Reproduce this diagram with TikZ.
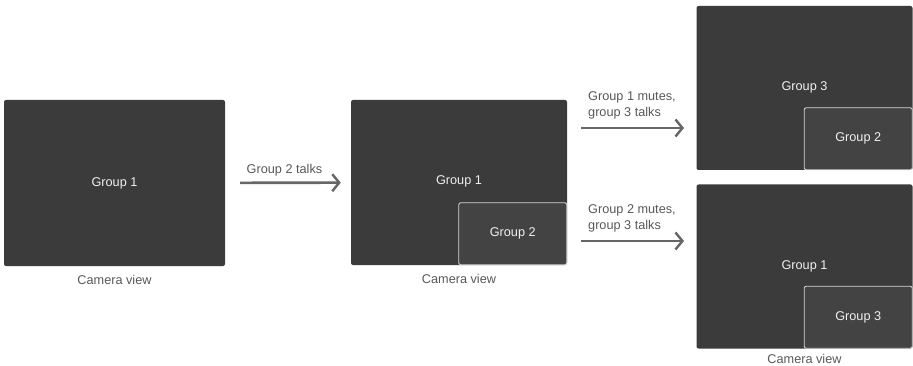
\documentclass[tikz,border=0pt]{standalone}
\usepackage{fontspec}
\setmainfont{Liberation Sans}
\usetikzlibrary{positioning, arrows.meta}
\definecolor{screen}{HTML}{3B3B3B}
\definecolor{insetfill}{HTML}{434343}
\definecolor{insetline}{HTML}{D4D4D4}
\definecolor{labelgray}{HTML}{585858}
\definecolor{arrowgray}{HTML}{666666}
\tikzset{
	graytext/.style={font=\fontsize{12.7}{16}\selectfont\color{labelgray}}
}
\tikzset{
	screentext/.style={font=\fontsize{12.7}{16}\selectfont\color{white!94!black}}
}

\begin{document}
\begin{tikzpicture}[x=1pt, y=-1pt]
			\tikzset{
				camnode/.style={
						shape=rectangle,
						fill=screen,
						rounded corners=2pt,
						minimum width=216pt,
						minimum height=164pt,
						inner sep=0pt,
						screentext
					},
				insetnode/.style={
						shape=rectangle,
						fill=insetfill,
						draw=insetline,
						line width=0.9pt,
						rounded corners=2pt,
						minimum width=108pt,
						minimum height=62pt,
						inner sep=0pt,
						screentext
					},
				flow/.style={
						draw=arrowgray,
						line width=2.6pt,
						-{Straight Barb[length=7pt, width=17pt, line width=2.4pt]}
					}
			}

			\useasboundingbox (0,0) rectangle (913,366);

			% camera views
			\node[camnode, minimum width=221pt, minimum height=166pt] (cam1) at (114.5,183) {Group 1};
			\node[camnode, minimum height=165pt] (cam2) at (459,182.5) {};
			\node[camnode] (cam3) at (804.5,88) {};
			\node[camnode] (cam4) at (804.5,266.5) {};

			% picture in picture
			\node[insetnode, anchor=south east] (pip2) at (cam2.south east) {Group 2};
			\node[insetnode, anchor=south east] (pip3) at (cam3.south east) {Group 2};
			\node[insetnode, anchor=south east] (pip4) at (cam4.south east) {Group 3};

			\node[screentext] (main2) at (459,181) {Group 1};
			\node[screentext] (main3) at (804.5,87) {Group 3};
			\node[screentext] (main4) at (804.5,266) {Group 1};

			\node[below=5.5pt of cam1, graytext] (cap1) {Camera view};
			\node[below=5.5pt of cam2, graytext] (cap2) {Camera view};
			\node[below=2pt of cam4, graytext] (cap4) {Camera view};

			% transitions
			\coordinate (up1) at (581,128);
			\coordinate (up2) at (684,128);
			\coordinate (dn1) at (581,241);
			\coordinate (dn2) at (684,241);

			\draw[flow, shorten <=15pt, shorten >=10pt] (cam1) -- (cam2);
			\draw[flow] (up1) -- (up2);
			\draw[flow] (dn1) -- (dn2);

			\node[graytext] (t1) at (284.5,170) {Group 2 talks};
			\node[graytext, align=left, anchor=south west, inner sep=0pt] (t2) at (588,119) {Group 1 mutes,\\group 3 talks};
			\node[graytext, align=left, anchor=south west, inner sep=0pt] (t3) at (588,232) {Group 2 mutes,\\group 3 talks};
		\end{tikzpicture}
\end{document}
